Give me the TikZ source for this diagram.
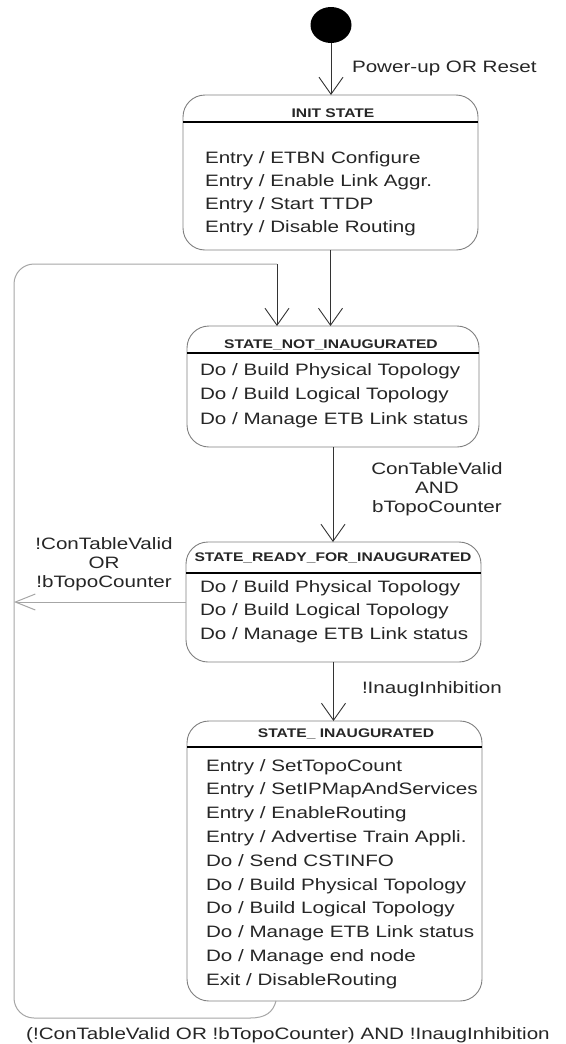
\documentclass[tikz,border=0pt]{standalone}
\usepackage{fontspec}
\setmainfont{Liberation Sans}[FakeStretch=1.25]
\usetikzlibrary{arrows.meta,shapes.geometric}

\begin{document}
\begin{tikzpicture}[x=1pt, y=-1pt,
    every node/.style={inner sep=0pt, outer sep=0pt, text=black!85},
    statebox/.style={draw=black!50, line width=0.9pt, rounded corners=22pt},
    sepline/.style={draw=black, line width=1.1pt},
    headtext/.style={font=\fontsize{12.5}{15}\selectfont\bfseries, anchor=base},
    item/.style={font=\fontsize{16.5}{20}\selectfont, anchor=base west},
    guard/.style={font=\fontsize{16.5}{19}\selectfont, align=center},
    arrow/.style={draw=black!80, line width=0.9pt, -{Straight Barb[length=17pt, width=24pt]}},
    backline/.style={draw=black!35, line width=1pt}]
    \useasboundingbox[fill=white] (0,0) rectangle (565,1044);

    \node[ellipse, fill=black, minimum width=41pt, minimum height=36pt](start) at (331, 25){};

    % states
    \node[statebox, minimum width=295pt, minimum height=155pt](init) at (330.5, 172.5){};
    \node[statebox, minimum width=292pt, minimum height=121pt](notinaug) at (333, 386.5){};
    \node[statebox, minimum width=295pt, minimum height=120pt](ready) at (333.5, 602){};
    \node[statebox, minimum width=295pt, minimum height=280pt](inaug) at (334.5, 861){};

    \draw[sepline] (init.west |- 0,122) -- (init.east |- 0,122);
    \draw[sepline] (notinaug.west |- 0,353) -- (notinaug.east |- 0,353);
    \draw[sepline] (ready.west |- 0,573) -- (ready.east |- 0,573);
    \draw[sepline] (inaug.west |- 0,747) -- (inaug.east |- 0,747);

    \node[headtext](init_h) at (333, 117.5){INIT STATE};
    \node[headtext](notinaug_h) at (331, 348.5){STATE\_NOT\_INAUGURATED};
    \node[headtext](ready_h) at (333, 561.5){STATE\_READY\_FOR\_INAUGURATED};
    \node[headtext](inaug_h) at (346, 737.5){STATE\_ INAUGURATED};

    \foreach \txt [count=\i from 0] in {Entry / ETBN Configure, Entry / Enable Link Aggr.,
        Entry / Start TTDP, Entry / Disable Routing}
        \node[item](init-\i) at (205, {163+23.3*\i}){\txt};
    \foreach \txt [count=\i from 0] in {Do / Build Physical Topology, Do / Build Logical Topology,
        Do / Manage ETB Link status}
        \node[item](notinaug-\i) at (200, {375+24.5*\i}){\txt};
    \foreach \txt [count=\i from 0] in {Do / Build Physical Topology, Do / Build Logical Topology,
        Do / Manage ETB Link status}
        \node[item](ready-\i) at (200, {592+23.5*\i}){\txt};
    \foreach \txt [count=\i from 0] in {Entry / SetTopoCount, Entry / SetIPMapAndServices,
        Entry / EnableRouting, Entry / Advertise Train Appli., Do / Send CSTINFO,
        Do / Build Physical Topology, Do / Build Logical Topology, Do / Manage ETB Link status,
        Do / Manage end node, Exit / DisableRouting}
        \node[item](inaug-\i) at (206, {771+23.8*\i}){\txt};

    % transitions
    \coordinate(loopin) at (277, 264);
    \coordinate(loopout) at (276, 1001);
    \coordinate(backleft) at (14, 602);

    \draw[arrow] (start) -- (start |- init.north);
    \draw[arrow] (init.south) -- (init.south |- notinaug.north);
    \draw[arrow] (loopin) -- (loopin |- notinaug.north);
    \draw[arrow] (notinaug.south) -- (notinaug.south |- ready.north);
    \draw[arrow] (ready.south) -- (ready.south |- inaug.north);
    \draw[backline, -{Straight Barb[length=20pt, width=16pt]}] (ready.west) -- (backleft);
    \draw[backline] (loopout) .. controls (273, 1012) and (266, 1018) .. (250, 1018);
    \draw[backline, rounded corners=20pt] (250, 1018) -- (14, 1018) -- (14, 264) -- (loopin);

    \node[item](powerlbl) at (352, 72){Power-up OR Reset};
    \node[guard](validlbl) at (437, 489){ConTableValid\\AND\\bTopoCounter};
    \node[guard](invalidlbl) at (104, 564){!ConTableValid\\OR\\!bTopoCounter};
    \node[item](inhiblbl) at (362, 693){!InaugInhibition};
    \node[item, anchor=base](backlbl) at (288, 1039){(!ConTableValid OR !bTopoCounter) AND !InaugInhibition};
\end{tikzpicture}
\end{document}
